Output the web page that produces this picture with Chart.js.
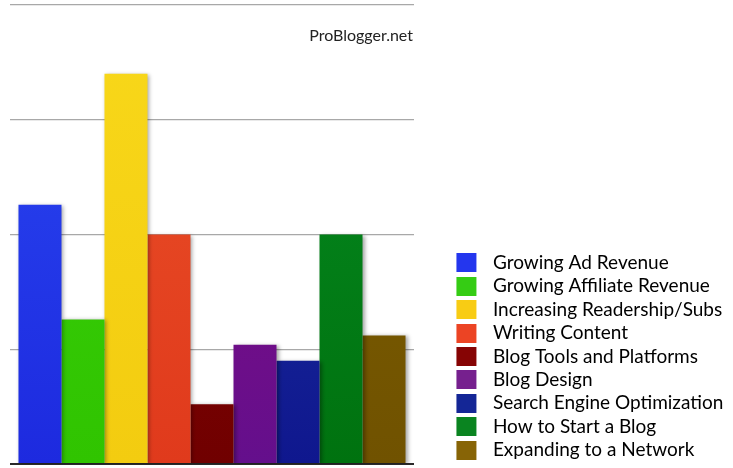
<!DOCTYPE html>
<html>
<head>
<meta charset="utf-8">
<script src="https://cdn.jsdelivr.net/npm/chart.js@4"></script>
<style>
  html, body { margin: 0; padding: 0; background: #ffffff; }
  #wrap { width: 733px; height: 468px; }
  canvas { display: block; }
</style>
</head>
<body>
<div id="wrap"><canvas id="chart" width="733" height="468"></canvas></div>
<script>
// Topics asked about by readers, and their relative share of requests
const topics = [
  'Growing Ad Revenue',
  'Growing Affiliate Revenue',
  'Increasing Readership/Subs',
  'Writing Content',
  'Blog Tools and Platforms',
  'Blog Design',
  'Search Engine Optimization',
  'How to Start a Blog',
  'Expanding to a Network'
];
const shares = [11.3, 6.3, 17, 10, 2.6, 5.2, 4.5, 10, 5.6];
const yTicks = [0, 5, 10, 15, 20];
const sourceLabel = 'ProBlogger.net';

// Bar colours: lighter at the top, deeper at the base
const topColors = ['#2a48f2', '#3ad00c', '#f8d81a', '#ea5028', '#8c0606', '#8a0a7e', '#1f36a2', '#058c22', '#7f6000'];
const baseColors = ['#1d2adf', '#30c400', '#f3cc10', '#e03a1c', '#700000', '#640f8c', '#0f178e', '#00720f', '#705200'];
const keyColors = ['#2436ee', '#35cc14', '#f8cc14', '#ec4424', '#860404', '#76208e', '#142696', '#0a8420', '#876406'];

const LEGEND_FONT = 19;
const LEGEND_GAP = 4.4;
const SWATCH_W = 65;

// Legend swatch: transparent lead-in followed by a coloured square
function makeSwatch(color) {
  const c = document.createElement('canvas');
  c.width = SWATCH_W;
  c.height = 19;
  const g = c.getContext('2d');
  g.fillStyle = color;
  g.fillRect(38, 0, 20, 19);
  return c;
}

function barFill(i) {
  return (ctx) => {
    const area = ctx.chart.chartArea;
    if (!area) return topColors[i];
    const grad = ctx.chart.ctx.createLinearGradient(0, area.top, 0, area.bottom);
    grad.addColorStop(0, topColors[i]);
    grad.addColorStop(1, baseColors[i]);
    return grad;
  };
}

const datasets = topics.map((name, i) => ({
  label: name,
  data: [shares[i]],
  backgroundColor: barFill(i),
  borderWidth: 0,
  categoryPercentage: 0.958,
  barPercentage: 1
}));

// Fixed legend width so the plot ends where the grid lines stop
const legendWidth = {
  id: 'legendWidth',
  beforeInit(chart) {
    const fit = chart.legend.fit;
    chart.legend.fit = function () {
      fit.call(chart.legend);
      this.width = 733 - 5 - 414;
    };
  }
};

// Soft drop shadow behind the bars
const barShadow = {
  id: 'barShadow',
  beforeDatasetsDraw(chart) {
    const ctx = chart.ctx;
    ctx.save();
    ctx.shadowColor = 'rgba(0,0,0,0.35)';
    ctx.shadowBlur = 4;
    ctx.shadowOffsetX = 2;
    ctx.shadowOffsetY = 1;
  },
  afterDatasetsDraw(chart) {
    chart.ctx.restore();
  }
};

// Source credit in the top-right corner of the plot
const sourceCredit = {
  id: 'sourceCredit',
  afterDraw(chart) {
    const ctx = chart.ctx;
    ctx.save();
    ctx.font = '16px Lato';
    ctx.fillStyle = '#222222';
    ctx.textAlign = 'right';
    ctx.textBaseline = 'alphabetic';
    ctx.fillText(sourceLabel, chart.chartArea.right - 1, 41);
    ctx.restore();
  }
};

new Chart(document.getElementById('chart'), {
  type: 'bar',
  data: { labels: [''], datasets },
  options: {
    responsive: false,
    animation: false,
    devicePixelRatio: 1,
    layout: { padding: { left: 10, top: 5, right: 5, bottom: 4 } },
    plugins: {
      tooltip: { enabled: false },
      legend: {
        position: 'right',
        align: 'end',
        labels: {
          usePointStyle: true,
          pointStyleWidth: SWATCH_W,
          padding: LEGEND_GAP,
          color: '#1c1c1c',
          font: { family: 'Lato', size: LEGEND_FONT },
          generateLabels: () => topics.map((name, i) => ({
            text: name,
            pointStyle: makeSwatch(keyColors[i]),
            fillStyle: keyColors[i],
            lineWidth: 0,
            hidden: false,
            datasetIndex: i
          }))
        }
      }
    },
    scales: {
      x: { display: false },
      y: {
        min: 0,
        max: 20,
        afterBuildTicks: (axis) => { axis.ticks = yTicks.map(v => ({ value: v })); },
        ticks: { display: false },
        border: { display: false },
        grid: {
          drawTicks: false,
          color: (c) => c.tick.value === 0 ? '#2a2a2a' : '#a8a8a8',
          lineWidth: (c) => c.tick.value === 0 ? 2 : 1.2
        }
      }
    }
  },
  plugins: [legendWidth, barShadow, sourceCredit]
});
</script>
</body>
</html>
